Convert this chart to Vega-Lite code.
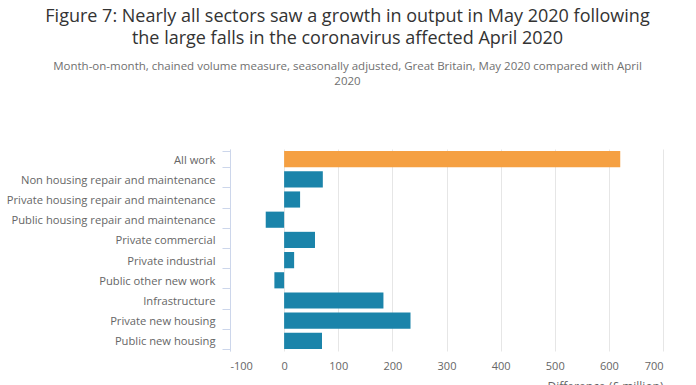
{
  "$schema": "https://vega.github.io/schema/vega-lite/v6.json",
  "width": 433,
  "height": 202,
  "autosize": {"type": "none"},
  "padding": {"left": 230, "top": 149, "right": 33, "bottom": 34},
  "background": "white",
  "config": {
    "font": "Open Sans",
    "view": {"stroke": null}
  },
  "title": {
    "text": ["Figure 7: Nearly all sectors saw a growth in output in May 2020 following", "the large falls in the coronavirus affected April 2020"],
    "subtitle": ["Month-on-month, chained volume measure, seasonally adjusted, Great Britain, May 2020 compared with April", "2020"],
    "anchor": "middle",
    "frame": "group",
    "dx": -99,
    "offset": 56,
    "font": "Open Sans",
    "fontSize": 18,
    "fontWeight": "normal",
    "color": "#333333",
    "lineHeight": 22,
    "subtitleFont": "Open Sans",
    "subtitleFontSize": 11.5,
    "subtitleColor": "#707070",
    "subtitleLineHeight": 15,
    "subtitlePadding": 13
  },
  "data": {
    "values": [
      {"sector": "All work", "value": 621, "group": "total"},
      {"sector": "Non housing repair and maintenance", "value": 71.5, "group": "sector"},
      {"sector": "Private housing repair and maintenance", "value": 29.5, "group": "sector"},
      {"sector": "Public housing repair and maintenance", "value": -34, "group": "sector"},
      {"sector": "Private commercial", "value": 57, "group": "sector"},
      {"sector": "Private industrial", "value": 18.5, "group": "sector"},
      {"sector": "Public other new work", "value": -18, "group": "sector"},
      {"sector": "Infrastructure", "value": 183.5, "group": "sector"},
      {"sector": "Private new housing", "value": 233.5, "group": "sector"},
      {"sector": "Public new housing", "value": 70, "group": "sector"}
    ]
  },
  "mark": {"type": "bar"},
  "encoding": {
    "y": {
      "field": "sector",
      "type": "nominal",
      "sort": null,
      "scale": {"paddingInner": 0.2, "paddingOuter": 0.1},
      "axis": {
        "title": null,
        "domainColor": "#ccd6eb",
        "tickColor": "#ccd6eb",
        "tickBand": "extent",
        "tickSize": 8,
        "labelFont": "Open Sans",
        "labelFontSize": 11.2,
        "labelColor": "#666666",
        "labelPadding": 7,
        "labelOffset": 1,
        "grid": false,
        "labelLimit": 300
      }
    },
    "x": {
      "field": "value",
      "type": "quantitative",
      "scale": {"domain": [-100, 700], "nice": false},
      "axis": {
        "title": "Difference (£ million)",
        "titleAnchor": "end",
        "titleFont": "Open Sans",
        "titleFontSize": 12,
        "titleFontWeight": "normal",
        "titleColor": "#666666",
        "titlePadding": 10,
        "values": [-100, 0, 100, 200, 300, 400, 500, 600, 700],
        "labelExpr": "replace(datum.label, '\u2212', '-')",
        "domain": false,
        "ticks": false,
        "grid": true,
        "gridColor": "#e6e6e6",
        "labelFont": "Open Sans",
        "labelFontSize": 11,
        "labelColor": "#666666",
        "labelPadding": 9
      }
    },
    "color": {
      "field": "group",
      "type": "nominal",
      "scale": {"domain": ["total", "sector"], "range": ["#f5a042", "#1b84aa"]},
      "legend": null
    }
  }
}
